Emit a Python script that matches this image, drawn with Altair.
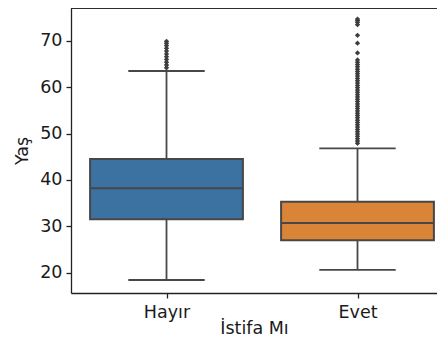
import altair as alt
import pandas as pd

# ---- data ----
cats = ["Hayır", "Evet"]
colors = ["#3c72a2", "#d98437"]
q1 = [31.5, 27.0]
median = [38.2, 30.7]
q3 = [44.5, 35.3]
whisker_low = [18.4, 20.6]
whisker_high = [63.5, 46.8]
outliers_hayir = [64.2, 64.8, 65.4, 66.0, 66.6, 67.2, 67.8, 68.4, 69.0, 69.5, 69.9]
outliers_evet = [47.9, 48.4, 48.9, 49.4, 49.9, 50.4, 50.9, 51.4, 51.9, 52.4, 52.9,
                 53.4, 53.9, 54.4, 54.9, 55.4, 55.9, 56.4, 56.9, 57.4, 57.9, 58.4,
                 58.9, 59.4, 59.9, 60.4, 60.9, 61.4, 61.9, 62.4, 62.9, 63.4, 63.9,
                 64.4, 64.9, 65.4, 65.9, 67.4, 69.5, 71.2, 73.5, 74.0, 74.4, 74.7]
y_ticks = [20, 30, 40, 50, 60, 70]

FONT = "DejaVu Sans"
FS = 17.5
EDGE = "#474747"

stats = pd.DataFrame({
    "cat": cats,
    "pos": list(range(len(cats))),
    "q1": q1, "median": median, "q3": q3,
    "lo": whisker_low, "hi": whisker_high,
})
out_rows = [{"cat": "Hayır", "pos": 0, "val": v} for v in outliers_hayir] + \
           [{"cat": "Evet", "pos": 1, "val": v} for v in outliers_evet]
outs = pd.DataFrame(out_rows)

label_expr = "[" + ",".join("'" + c + "'" for c in cats) + "][datum.value]"

W, H = 366, 285
xscale = alt.Scale(domain=[-0.5, W / 191 - 0.5], nice=False, zero=False)
yscale = alt.Scale(domain=[15.6, 77.1], nice=False, zero=False)

xaxis = alt.Axis(values=list(range(len(cats))), labelExpr=label_expr, title="İstifa Mı",
                 grid=False, tickSize=5, labelPadding=5, titleY=40,
                 titleBaseline="alphabetic",
                 labelFont=FONT, titleFont=FONT, labelFontSize=FS, titleFontSize=FS,
                 titleFontWeight="normal", labelColor="#1a1a1a", titleColor="#1a1a1a",
                 domainColor="#222222", tickColor="#222222", domainWidth=1.3, tickWidth=1.3)
yaxis = alt.Axis(values=y_ticks, title="Yaş", grid=False, tickSize=5, labelPadding=4,
                 titlePadding=8, labelFont=FONT, titleFont=FONT, labelFontSize=FS,
                 titleFontSize=FS, titleFontWeight="normal", labelColor="#1a1a1a",
                 titleColor="#1a1a1a", domainColor="#222222", tickColor="#222222",
                 domainWidth=1.3, tickWidth=1.3)


def XQ(f):
    return alt.X(f, type="quantitative", scale=xscale, axis=xaxis)


def YQ(f):
    return alt.Y(f, type="quantitative", scale=yscale, axis=yaxis)


base = alt.Chart(stats)

whisk = base.mark_rule(color=EDGE, strokeWidth=1.8).encode(
    x=XQ("pos"), y=YQ("lo"), y2="hi:Q")

caps_lo = base.transform_calculate(a="datum.pos - 0.2", b="datum.pos + 0.2").mark_rule(
    color=EDGE, strokeWidth=1.8).encode(x=XQ("a"), x2="b:Q", y=YQ("lo"))
caps_hi = base.transform_calculate(a="datum.pos - 0.2", b="datum.pos + 0.2").mark_rule(
    color=EDGE, strokeWidth=1.8).encode(x=XQ("a"), x2="b:Q", y=YQ("hi"))

box = base.transform_calculate(a="datum.pos - 0.4", b="datum.pos + 0.4").mark_rect(
    stroke=EDGE, strokeWidth=2).encode(
    x=XQ("a"), x2="b:Q", y=YQ("q1"), y2="q3:Q",
    fill=alt.Fill("cat:N", scale=alt.Scale(domain=cats, range=colors), legend=None))

med = base.transform_calculate(a="datum.pos - 0.4", b="datum.pos + 0.4").mark_rule(
    color=EDGE, strokeWidth=2).encode(x=XQ("a"), x2="b:Q", y=YQ("median"))

pts = alt.Chart(outs).mark_point(shape="diamond", filled=True, size=28, color="#3d3d3d",
                                 opacity=1).encode(x=XQ("pos"), y=YQ("val"))

top_spine = alt.Chart(stats).mark_rule(color="#222222", strokeWidth=1.3).encode(
    x=alt.value(0), x2=alt.value(W), y=alt.value(0))

chart = alt.layer(whisk, caps_lo, caps_hi, box, med, pts, top_spine).properties(
    width=W, height=H,
    autosize=alt.AutoSizeParams(type="none"),
    padding={"left": 63, "top": 0, "right": 0, "bottom": 45},
).configure_view(stroke=None).configure(background="white")

chart.save("out.html", embed_options={"renderer": "svg", "actions": False})
